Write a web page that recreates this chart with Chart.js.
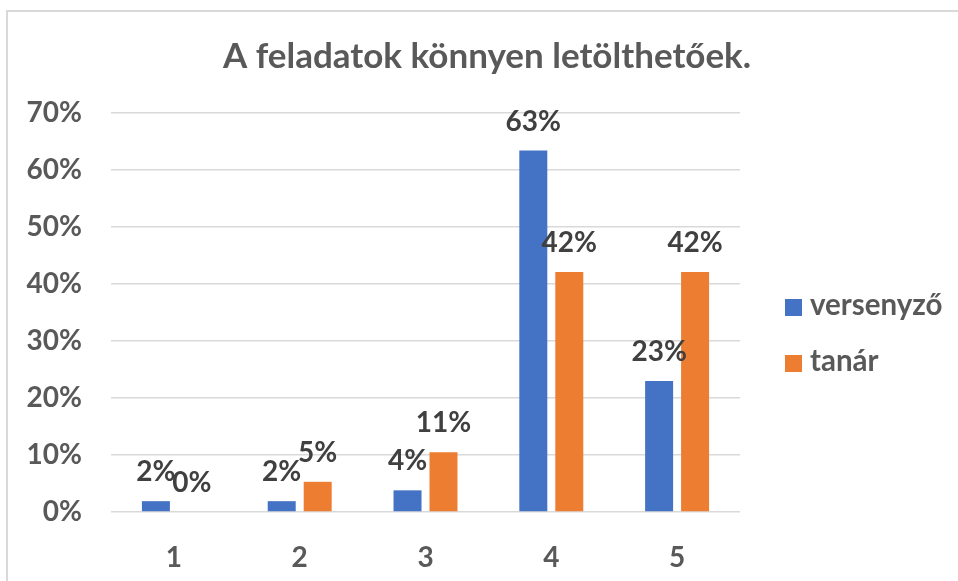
<!DOCTYPE html>
<html>
<head>
<meta charset="utf-8">
<script src="https://cdn.jsdelivr.net/npm/chart.js@4.4.1/dist/chart.umd.min.js"></script>
<style>
  html, body { margin: 0; padding: 0; background: #ffffff; overflow: hidden; }
  #wrap { position: relative; width: 958px; height: 581px; overflow: hidden; background: #fff; }
  #frame { position: absolute; left: 6px; top: 10px; width: 2000px; height: 2000px;
           border-left: 2px solid #d9d9d9; border-top: 2px solid #d9d9d9; }
  #c { position: absolute; left: 0; top: 0; }
</style>
</head>
<body>
<div id="wrap">
  <div id="frame"></div>
  <canvas id="c" width="958" height="581"></canvas>
</div>
<script>
const titleText = 'A feladatok könnyen letölthetőek.';
const categories = ['1', '2', '3', '4', '5'];
const seriesNames = ['versenyző', 'tanár'];
const versenyzo = [0.019, 0.019, 0.038, 0.634, 0.230];
const tanar = [0.000, 0.053, 0.105, 0.421, 0.421];
const yTicks = [0, 0.1, 0.2, 0.3, 0.4, 0.5, 0.6, 0.7];
const colors = ['#4472C4', '#ED7D31'];

const pct = v => Math.round(v * 100) + '%';

const dataLabels = {
  id: 'dataLabels',
  afterDatasetsDraw(chart) {
    const ctx = chart.ctx;
    ctx.save();
    ctx.font = 'bold 28px Lato';
    ctx.fillStyle = '#404040';
    ctx.textAlign = 'center';
    ctx.textBaseline = 'alphabetic';
    chart.data.datasets.forEach((ds, di) => {
      const meta = chart.getDatasetMeta(di);
      meta.data.forEach((el, i) => {
        ctx.fillText(pct(ds.data[i]), el.x, el.y - 20);
      });
    });
    ctx.restore();
  }
};

const sideLegend = {
  id: 'sideLegend',
  afterDraw(chart) {
    const ctx = chart.ctx;
    ctx.save();
    ctx.font = 'bold 29.5px Lato';
    ctx.textAlign = 'left';
    ctx.textBaseline = 'alphabetic';
    chart.data.datasets.forEach((ds, i) => {
      const y = 299 + i * 56;
      ctx.fillStyle = ds.backgroundColor;
      ctx.fillRect(785, y, 17, 17);
      ctx.fillStyle = '#595959';
      ctx.fillText(ds.label, 810, y + 16);
    });
    ctx.restore();
  }
};

function draw() {
  new Chart(document.getElementById('c'), {
    type: 'bar',
    data: {
      labels: categories,
      datasets: [
        { label: seriesNames[0], data: versenyzo, backgroundColor: colors[0] },
        { label: seriesNames[1], data: tanar, backgroundColor: colors[1] }
      ]
    },
    options: {
      responsive: false,
      animation: false,
      devicePixelRatio: 1,
      layout: { padding: { left: 16, right: 0, top: 0, bottom: 0 } },
      datasets: { bar: { categoryPercentage: 0.572, barPercentage: 0.778 } },
      plugins: {
        legend: { display: false },
        tooltip: { enabled: false },
        title: {
          display: true,
          text: titleText,
          color: '#595959',
          font: { family: 'Lato', size: 35, weight: 'bold' },
          padding: { top: 36, bottom: 35 }
        }
      },
      scales: {
        x: {
          grid: { display: false },
          border: { display: false },
          ticks: { color: '#595959', font: { family: 'Lato', size: 28, weight: 'bold' }, padding: 21 },
          afterFit(s) { s.height = 69; }
        },
        y: {
          min: 0, max: 0.7,
          afterBuildTicks(s) { s.ticks = yTicks.map(v => ({ value: v })); },
          grid: { color: '#d9d9d9', lineWidth: 1.5, drawTicks: false },
          border: { display: false },
          ticks: { color: '#595959', font: { family: 'Lato', size: 28, weight: 'bold' }, padding: 29, callback: v => pct(v) },
          afterFit(s) { s.width = 95; }
        },
        yR: {
          type: 'linear',
          position: 'right',
          display: true,
          grid: { display: false, drawTicks: false },
          border: { display: false },
          ticks: { display: false },
          afterFit(s) { s.width = 218; }
        }
      }
    },
    plugins: [dataLabels, sideLegend]
  });
}

if (document.fonts && document.fonts.load) {
  Promise.all([document.fonts.load('bold 28px Lato'), document.fonts.load('bold 35px Lato')]).then(draw, draw);
} else {
  draw();
}
</script>
</body>
</html>
